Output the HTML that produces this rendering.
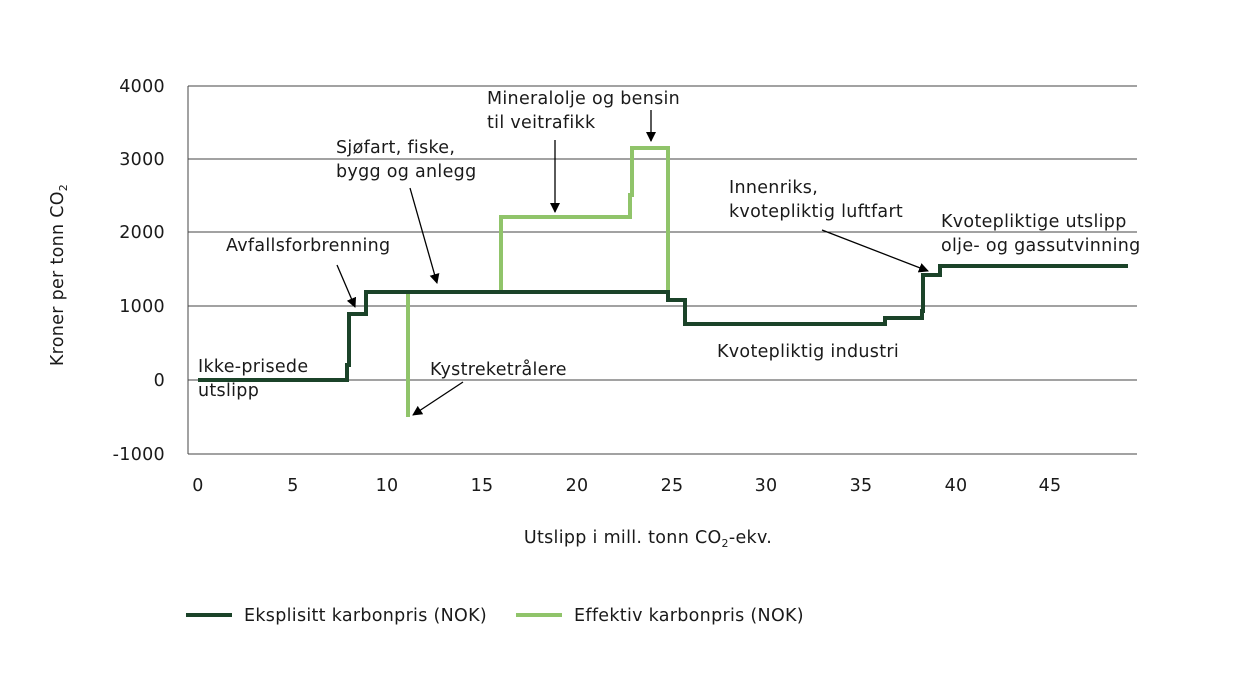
<!DOCTYPE html>
<html><head><meta charset="utf-8"><style>
body{margin:0;background:#fff;}
svg text{font-family:"DejaVu Sans","Liberation Sans",sans-serif;font-size:17.5px;fill:#1a1a1a;letter-spacing:0.3px;}
</style></head><body>
<svg width="1241" height="688" viewBox="0 0 1241 688" xmlns="http://www.w3.org/2000/svg">
<defs><marker id="a" markerWidth="10" markerHeight="10" refX="9" refY="5" orient="auto" markerUnits="userSpaceOnUse" viewBox="0 0 10 10"><path d="M0,0 L10,5 L0,10 z" fill="#000"/></marker></defs>
<g stroke="#444" stroke-width="1">
<line x1="188" y1="86" x2="1137" y2="86"/><line x1="188" y1="159" x2="1137" y2="159"/>
<line x1="188" y1="232" x2="1137" y2="232"/><line x1="188" y1="306" x2="1137" y2="306"/>
<line x1="188" y1="380" x2="1137" y2="380"/><line x1="188" y1="454" x2="1137" y2="454"/>
<line x1="188" y1="86" x2="188" y2="454"/>
</g>
<g text-anchor="end">
<text x="165" y="92">4000</text><text x="165" y="165">3000</text><text x="165" y="238">2000</text>
<text x="165" y="312">1000</text><text x="165" y="386">0</text><text x="165" y="460">-1000</text>
</g>
<g text-anchor="middle">
<text x="198" y="491">0</text><text x="293" y="491">5</text><text x="387" y="491">10</text><text x="482" y="491">15</text>
<text x="577" y="491">20</text><text x="672" y="491">25</text><text x="766" y="491">30</text><text x="861" y="491">35</text>
<text x="956" y="491">40</text><text x="1050" y="491">45</text>
<text x="648" y="543">Utslipp i mill. tonn CO<tspan font-size="11" dy="4">2</tspan><tspan dy="-4">-ekv.</tspan></text>
</g>
<text transform="translate(63,275) rotate(-90)" text-anchor="middle">Kroner per tonn CO<tspan font-size="11" dy="4">2</tspan></text>
<g fill="none" stroke-width="4" stroke-linejoin="miter">
<path d="M408,292 V417 M501,292 V217 H630 V195 H632 V148 H668 V292" stroke="#90c46a"/>
<path d="M198,380 H347 V365 H349 V314 H366 V292 H668 V300 H685 V324 H885 V318 H922 V311 H923 V275 H940 V266 H1128" stroke="#1b4329"/>
</g>
<g stroke="#000" stroke-width="1.3" marker-end="url(#a)">
<line x1="337" y1="265" x2="355" y2="307"/>
<line x1="410" y1="188" x2="437" y2="283"/>
<line x1="555" y1="140" x2="555" y2="212"/>
<line x1="651" y1="110" x2="651" y2="141"/>
<line x1="463" y1="382" x2="413" y2="415"/>
<line x1="822" y1="230" x2="928" y2="271"/>
</g>
<text x="198" y="372">Ikke-prisede</text><text x="198" y="396">utslipp</text>
<text x="226" y="251">Avfallsforbrenning</text>
<text x="336" y="153">Sjøfart, fiske,</text><text x="336" y="177">bygg og anlegg</text>
<text x="487" y="104">Mineralolje og bensin</text><text x="487" y="128">til veitrafikk</text>
<text x="430" y="375">Kystreketrålere</text>
<text x="729" y="193">Innenriks,</text><text x="729" y="217">kvotepliktig luftfart</text>
<text x="941" y="227">Kvotepliktige utslipp</text><text x="941" y="251">olje- og gassutvinning</text>
<text x="717" y="357">Kvotepliktig industri</text>
<line x1="186" y1="615" x2="232" y2="615" stroke="#1b4329" stroke-width="4"/>
<text x="244" y="621">Eksplisitt karbonpris (NOK)</text>
<line x1="516" y1="615" x2="562" y2="615" stroke="#90c46a" stroke-width="4"/>
<text x="574" y="621">Effektiv karbonpris (NOK)</text>
</svg>
</body></html>
